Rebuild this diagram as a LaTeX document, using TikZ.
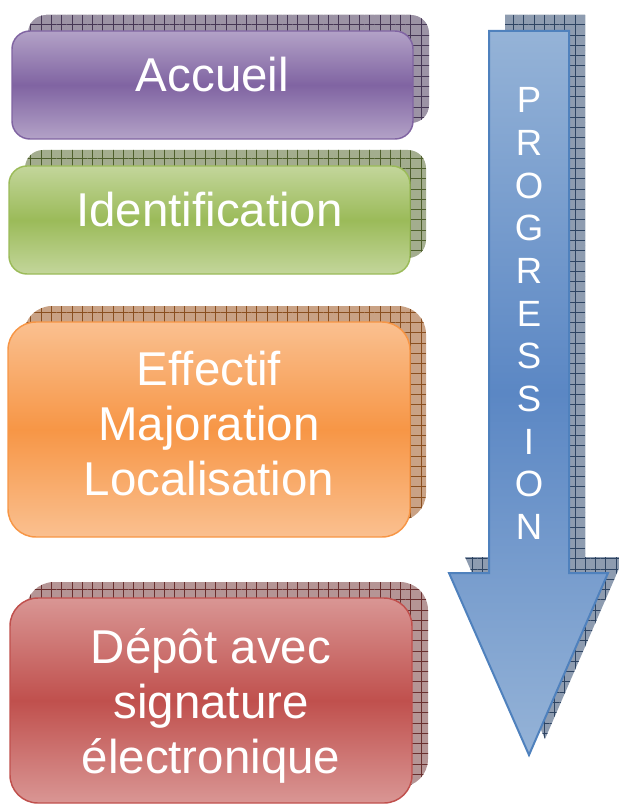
\documentclass[tikz,border=0pt]{standalone}
\usepackage{fontspec}
\setmainfont{Liberation Sans}
\usetikzlibrary{patterns.meta}

\definecolor{violetFort}{HTML}{8064A2}
\definecolor{violetClair}{HTML}{B3A2C7}
\definecolor{vertFort}{HTML}{9BBB59}
\definecolor{vertClair}{HTML}{C3D69B}
\definecolor{orangeFort}{HTML}{F79646}
\definecolor{orangeClair}{HTML}{FAC090}
\definecolor{rougeFort}{HTML}{C0504D}
\definecolor{rougeClair}{HTML}{D99694}
\definecolor{bleuFort}{HTML}{4F81BD}
\definecolor{bleuMoyen}{HTML}{5B87C4}
\definecolor{bleuClair}{HTML}{95B3D7}
% couleurs des ombres
\definecolor{ombreViolet}{HTML}{9C93A5}
\definecolor{grilleViolet}{HTML}{453654}
\definecolor{ombreVert}{HTML}{A3AD8E}
\definecolor{grilleVert}{HTML}{4E5F2C}
\definecolor{ombreOrange}{HTML}{C9A285}
\definecolor{grilleOrange}{HTML}{8A4F1F}
\definecolor{ombreRouge}{HTML}{B59595}
\definecolor{grilleRouge}{HTML}{6A2F2E}
\definecolor{ombreBleu}{HTML}{8E9CB0}
\definecolor{grilleBleu}{HTML}{2E4462}

\begin{document}
\begin{tikzpicture}[x=0.75pt,y=0.75pt,yscale=-1,xscale=1,
  ombre/.style 2 args={fill=#1,postaction={pattern={Hatch[angle=0,distance=7.7pt,line width=0.5pt]},pattern color=#2}},
  bloc/.style 2 args={draw=#1,line width=1.1pt,top color=#2,bottom color=#2,middle color=#1},
  texte/.style={text=white,inner sep=0pt,font=\fontsize{35.6}{41.25}\selectfont},
  lettres/.style={text=white,inner sep=0pt,font=\fontsize{27.4}{32}\selectfont}]
\useasboundingbox (0,0) rectangle (618,805);

%Shadow: Arrow
\path [ombre={ombreBleu}{grilleBleu}] (505,15) -- (585,15) -- (585,557) -- (624,557) -- (545,739) -- (465,557) -- (505,557) -- cycle ;
%Shape: Down Arrow
\path [bloc={bleuMoyen}{bleuClair},draw=bleuFort,line width=1.5pt] (489,31) -- (569,31) -- (569,573) -- (608,573) -- (529,755) -- (449,573) -- (489,573) -- cycle ;

%Shadow: Rounded Rect
\path [ombre={ombreViolet}{grilleViolet},rounded corners=13.5pt] (28,15) rectangle (429,123) ;
%Shape: Rounded Rect
\path [bloc={violetFort}{violetClair},rounded corners=13.5pt] (12,31) rectangle (413,139) ;

%Shadow: Rounded Rect
\path [ombre={ombreVert}{grilleVert},rounded corners=13.5pt] (25,150) rectangle (426,258) ;
%Shape: Rounded Rect
\path [bloc={vertFort}{vertClair},rounded corners=13.5pt] (9,166) rectangle (410,274) ;

%Shadow: Rounded Rect
\path [ombre={ombreOrange}{grilleOrange},rounded corners=21pt] (24,306) rectangle (426,521) ;
%Shape: Rounded Rect
\path [bloc={orangeFort}{orangeClair},rounded corners=21pt] (8,322) rectangle (410,537) ;

%Shadow: Rounded Rect
\path [ombre={ombreRouge}{grilleRouge},rounded corners=21pt] (26,582) rectangle (428,787) ;
%Shape: Rounded Rect
\path [bloc={rougeFort}{rougeClair},rounded corners=21pt] (10,598) rectangle (412,803) ;

% Text Node
\node [texte,anchor=base] (accueil) at (212.5,92) {Accueil};
% Text Node
\node [texte,anchor=base] (identification) at (209.5,227) {Identification};
% Text Node
\node [texte,anchor=base,align=center] (effectif) at (209,495) {Effectif\\Majoration\\Localisation};
% Text Node
\node [texte,anchor=base,align=center] (depot) at (211,773) {Dépôt avec\\signature\\électronique};
% Text Node
\node [lettres,align=center] (progression) at (529,313.5) {P\\R\\O\\G\\R\\E\\S\\S\\I\\O\\N};

\end{tikzpicture}
\end{document}
